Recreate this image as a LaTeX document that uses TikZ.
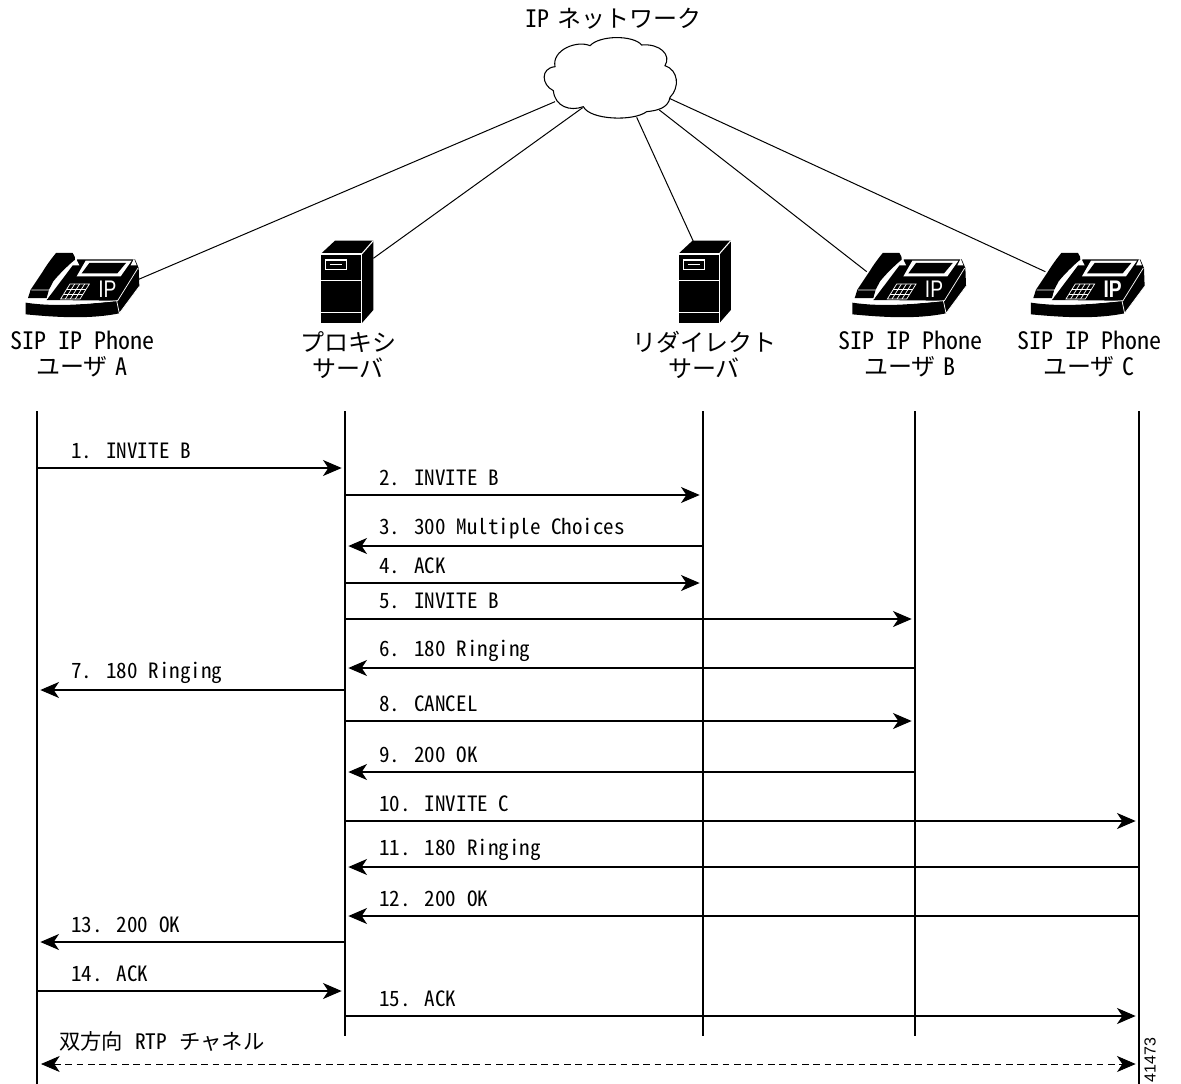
\documentclass[tikz,border=0pt]{standalone}
\usepackage{fontspec}
\usetikzlibrary{arrows.meta}
\setmainfont{Noto Sans CJK JP}
\newfontfamily\hw[RawFeature=+hwid]{Noto Sans CJK JP}
\newfontfamily\arl{Liberation Sans}
\tikzset{
  life/.style={line width=.8pt,black},
  net/.style={line width=.75pt,black},
  msg/.style={line width=.9pt,-{Stealth[length=14pt,width=12pt,inset=4pt]},shorten >=2.5pt},
  rtp/.style={line width=.6pt,dash pattern=on 5pt off 3.5pt,{Stealth[length=14pt,width=12pt,inset=4pt]}-{Stealth[length=14pt,width=12pt,inset=4pt]},shorten >=2.5pt,shorten <=3pt},
  lab/.style={anchor=west,inner sep=0pt,font=\hw\fontsize{15.8}{16}\selectfont},
  toplab/.style={align=center,inner sep=0pt,font=\fontsize{18}{19.5}\selectfont},
  ic/.style={line width=.55pt,white},
}
\newcommand{\phoneicon}[3]{%
 \begin{scope}[shift={(#2,230)},x=.25pt,y=-.25pt]
  \coordinate (#1r) at (416,148);
  \coordinate (#1l) at (120,125);
  % side and top of the body
  \fill (140,210) -- (232,88) -- (405,88) -- (416,114) -- (418,169) -- (358,250) -- (350,212) -- cycle;
  % base slab
  \fill (77,218) .. controls (170,232) and (270,222) .. (350,212) -- (358,250) .. controls (270,268) and (170,262) .. (77,253) -- cycle;
  \draw[ic] (77,213) .. controls (170,228) and (270,220) .. (353,212) -- (414,114);
  \draw[ic] (350,212) -- (358,250) -- (418,169);
  % cradle marks
  \fill[white] (218,106) -- (228,86) -- (238,106) -- cycle;
  \fill[white] (392,106) -- (402,86) -- (410,106) -- cycle;
  % display
  \fill[white] (257,92) -- (395,92) -- (362,139) -- (230,139) -- cycle;
  \fill (268,99) -- (378,99) -- (352,130) -- (245,130) -- cycle;
  % handset
  \fill (168,69) -- (218,69) .. controls (224,76) and (226,84) .. (225,89) .. controls (205,105) and (175,135) .. (160,154) -- (147,179) -- (140,204) -- (84,204) -- (92,179) -- (128,125) .. controls (140,105) and (155,85) .. cycle;
  \draw[ic] (230,92) .. controls (205,112) and (178,138) .. (163,158) -- (150,180);
  \draw[ic] (94,180) -- (150,180) -- (142,206);
  % keypad
  \draw[ic] (210,162) -- (268,162) -- (240,207) -- (182,207) -- cycle;
  \draw[ic] (200,177) -- (258,177) (191,192) -- (249,192);
  \draw[ic] (224,162) -- (196,207) (239,162) -- (211,207) (254,162) -- (226,207);
  \node[white,inner sep=0pt,xscale=.8,font=\arl#3\fontsize{18}{18}\selectfont] at (322,177) {IP};
 \end{scope}}
\newcommand{\servericon}[2]{%
 \begin{scope}[shift={(#2,230)},x=.25pt,y=-.25pt]
  \coordinate (#1t) at (1120,85);
  \coordinate (#1u) at (1007,33);
  \fill (962,72) -- (1005,32) -- (1120,32) -- (1120,240) -- (1085,280) -- (962,280) -- cycle;
  \draw[ic,line width=.8pt] (962,72) rectangle (1085,280);
  \draw[ic,line width=.8pt] (1085,72) -- (1120,32);
  \draw[ic,line width=.8pt] (962,152) -- (1085,152) (962,248) -- (1085,248);
  \draw[ic,line width=.8pt] (977,90) rectangle (1040,118);
  \draw[ic] (990,104) -- (1027,104);
 \end{scope}}
\begin{document}
\begin{tikzpicture}[x=.75pt,y=-.75pt]
\useasboundingbox (0,0) rectangle (1181,1084);
% lifeline ends
\foreach \n/\x/\b in {A/37/1084,P/345/1036,R/703/1036,B/915/1036,C/1139/1084}{
  \coordinate (\n) at (\x,411);
  \coordinate (\n e) at (\x,\b);
}
\foreach \r/\y in {m1/468,m2/495,m3/546,m4/583,m5/619,m6/668,m7/690,m8/721,m9/772,m10/821,m11/867,m12/916,m13/942,m14/991,m15/1016,m16/1064}{
  \coordinate (\r) at (0,\y);
}
% icons
\phoneicon{pa}{0}{}
\phoneicon{pb}{826.7}{}
\phoneicon{pc}{1005.3}{\bfseries}
\servericon{sp}{0}
\servericon{sr}{357.5}
% cloud
\begin{scope}[shift={(500,0)},x=.25pt,y=-.25pt]
 \draw[line width=.8pt] (160,272) .. controls (125,255) and (120,205) .. (165,200)
   .. controls (155,150) and (230,120) .. (270,137)
   .. controls (300,105) and (400,105) .. (425,135)
   .. controls (480,130) and (515,165) .. (495,197)
   .. controls (535,210) and (540,262) .. (510,292)
   .. controls (505,325) and (470,332) .. (440,335)
   .. controls (400,365) and (270,360) .. (250,320)
   .. controls (210,335) and (165,320) .. cycle;
 \coordinate (cA) at (165,305);
 \coordinate (cP) at (248,323);
 \coordinate (cR) at (410,352);
 \coordinate (cB) at (478,330);
 \coordinate (cC) at (510,296);
\end{scope}
% network links
\draw[net] (cA) -- (par);
\draw[net] (cP) -- (spt);
\draw[net] (cR) -- (sru);
\draw[net] (cB) -- (pbl);
\draw[net] (cC) -- (pcl);
% titles
\node[inner sep=0pt,font=\fontsize{18}{18}\selectfont,anchor=center] (net) at (613.5,19) {{\hw IP}\hspace{6pt}ネットワーク};
\node[toplab] (ta) at (82,354) {{\hw SIP IP Phone}\\ユーザ\hspace{6pt}{\hw A}};
\node[toplab] (tp) at (348,355) {プロキシ\\サーバ};
\node[toplab] (tr) at (704,355) {リダイレクト\\サーバ};
\node[toplab] (tb) at (910,354) {{\hw SIP IP Phone}\\ユーザ\hspace{6pt}{\hw B}};
\node[toplab] (tc) at (1089,354) {{\hw SIP IP Phone}\\ユーザ\hspace{6pt}{\hw C}};
% lifelines
\foreach \n in {A,P,R,B,C}{\draw[life] (\n) -- (\n e);}
% messages
\draw[msg] (A|-m1) -- (P|-m1);
\draw[msg] (P|-m2) -- (R|-m2);
\draw[msg] (R|-m3) -- (P|-m3);
\draw[msg] (P|-m4) -- (R|-m4);
\draw[msg] (P|-m5) -- (B|-m5);
\draw[msg] (B|-m6) -- (P|-m6);
\draw[msg] (P|-m7) -- (A|-m7);
\draw[msg] (P|-m8) -- (B|-m8);
\draw[msg] (B|-m9) -- (P|-m9);
\draw[msg] (P|-m10) -- (C|-m10);
\draw[msg] (C|-m11) -- (P|-m11);
\draw[msg] (C|-m12) -- (P|-m12);
\draw[msg] (P|-m13) -- (A|-m13);
\draw[msg] (A|-m14) -- (P|-m14);
\draw[msg] (P|-m15) -- (C|-m15);
\draw[rtp] (A|-m16) -- (C|-m16);
% labels
\node[lab] (l1) at (71,451) {1. INVITE B};
\node[lab] (l2) at (379,478) {2. INVITE B};
\node[lab] (l3) at (379,529) {3. 300 Multiple Choices};
\node[lab] (l4) at (379,566) {4. ACK};
\node[lab] (l5) at (379,601) {5. INVITE B};
\node[lab] (l6) at (379,651) {6. 180 Ringing};
\node[lab] (l7) at (71,673) {7. 180 Ringing};
\node[lab] (l8) at (379,704) {8. CANCEL};
\node[lab] (l9) at (379,755) {9. 200 OK};
\node[lab] (l10) at (379,804) {10. INVITE C};
\node[lab] (l11) at (379,850) {11. 180 Ringing};
\node[lab] (l12) at (379,899) {12. 200 OK};
\node[lab] (l13) at (71,925) {13. 200 OK};
\node[lab] (l14) at (71,974) {14. ACK};
\node[lab] (l15) at (379,999) {15. ACK};
\node[lab,font=\fontsize{16}{16}\selectfont] (l16) at (59,1041) {双方向\hspace{9pt}{\hw RTP}\hspace{9pt}チャネル};
\node[rotate=90,inner sep=0pt,font=\arl\fontsize{12}{12}\selectfont] (fig) at (1150,1060) {41473};
\end{tikzpicture}
\end{document}
